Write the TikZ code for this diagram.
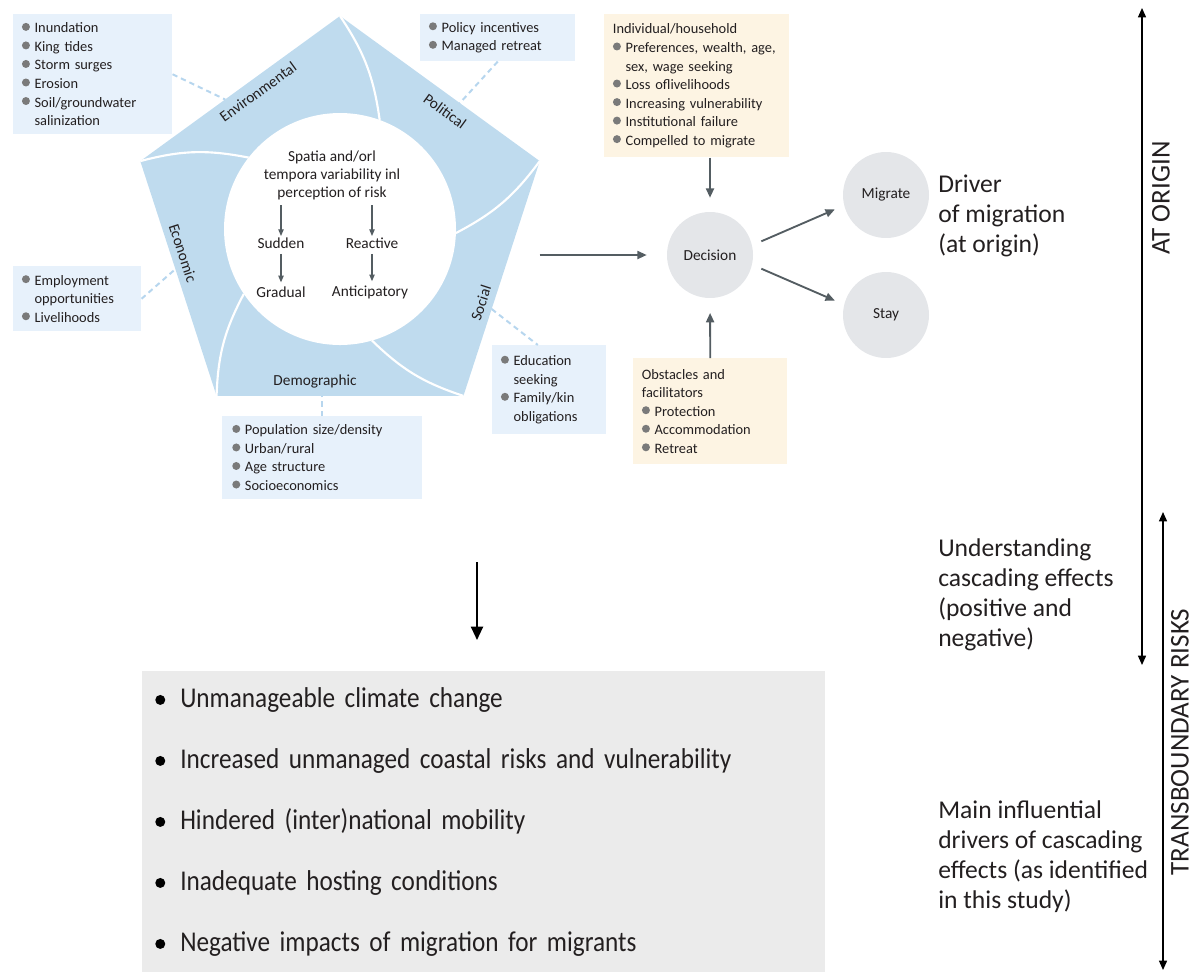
\documentclass[tikz,border=0pt]{standalone}
\usepackage{fontspec}
\setmainfont{Carlito}
\newfontfamily\condfont[FakeStretch=0.88]{Carlito}
\usetikzlibrary{arrows.meta,calc}
\definecolor{pentblue}{HTML}{BFDBEE}
\definecolor{boxblue}{HTML}{E7F1FB}
\definecolor{boxbeige}{HTML}{FDF4E3}
\definecolor{circgrey}{HTML}{E4E6E9}
\definecolor{listgrey}{HTML}{EBEBEB}
\definecolor{arrgrey}{HTML}{545D62}
\definecolor{dashblue}{HTML}{B7D6EE}
\definecolor{bulgrey}{HTML}{7A7A7A}
\definecolor{txt}{HTML}{231F20}
\newcommand{\listfont}{\fontsize{10.8}{13.9}\selectfont}
\newcommand{\pentfont}{\fontsize{11.5}{13.5}\selectfont}
\newcommand{\sidefont}{\fontsize{19.2}{22.5}\selectfont}
\newcommand{\bigfont}{\condfont\fontsize{21.5}{45.75}\selectfont}
\newcommand{\vertfont}{\fontsize{20.3}{24}\selectfont}
\newcommand{\bul}{\makebox[9.5pt][l]{\tikz[baseline=-4.5pt]\fill[bulgrey] (3pt,0pt) circle (3pt);}}
\newcommand{\ind}{\hspace*{9.5pt}}
\newcommand{\bigbul}{\makebox[18.75pt][l]{\tikz[baseline=-5.5pt]\fill[black] (3.75pt,0pt) circle (3.75pt);}}
\begin{document}
\begin{tikzpicture}[x=0.75pt, y=-0.75pt,
    lbox/.style={fill=boxblue, anchor=north west, align=left, inner xsep=6.5pt, inner ysep=0pt, font=\listfont, text=txt},
    bbox/.style={lbox, fill=boxbeige},
    circ/.style={circle, fill=circgrey, minimum size=64.5pt, inner sep=0pt, font=\pentfont, text=txt},
    arr/.style={draw=arrgrey, line width=1.4pt, -{Triangle[length=7pt,width=6pt]}},
    sarr/.style={draw=arrgrey, line width=0.9pt, -{Triangle[length=5pt,width=4pt]}},
    bigarr/.style={draw=black, line width=1.5pt, -{Triangle[length=10pt,width=9pt]}},
    vtarr/.style={draw=black, line width=1pt, {Triangle[length=7pt,width=6pt]}-{Triangle[length=7pt,width=6pt]}},
    dashlink/.style={draw=dashblue, line width=1.5pt, dash pattern=on 4pt off 3pt},
    sep/.style={draw=white, line width=1.6pt},
    plabel/.style={font=\pentfont, text=txt, inner sep=1pt},
    side/.style={font=\sidefont, text=txt, align=left, anchor=west, inner sep=0pt},
    vlabel/.style={font=\vertfont, text=txt, rotate=90, inner sep=0pt}]
    \useasboundingbox (0,0) rectangle (1194,972);

    \coordinate (pc) at (340,226);
    \coordinate (cc) at (340,229);
    \foreach \a [count=\i] in {-90,-18,54,126,198}
      \coordinate (v\i) at ($(pc)+(\a:210)$);
    \fill[pentblue] (v1) -- (v2) -- (v3) -- (v4) -- (v5) -- cycle;
    \fill[white] (cc) circle[radius=87pt];
    \foreach \a in {-90,-18,54,126,198}
      \draw[sep] ($(pc)+(\a:210)$) to[bend left=13] ($(cc)+(\a+20:116)$);

    \node[plabel, rotate=36] (envlab) at (258,92) {Environmental};
    \node[plabel, rotate=-36] (pollab) at (445,111) {Political};
    \node[plabel, rotate=72] (soclab) at (481,303) {Social};
    \node[plabel] (demlab) at (315,381) {Demographic};
    \node[plabel, rotate=-72] (ecolab) at (183,253) {Economic};

    \node[plabel, align=center] (risk) at (332,175) {Spatia and/orl\\tempora variability inl\\perception of risk};
    \node[plabel] (sudden) at (281,243) {Sudden};
    \node[plabel] (reactive) at (372,243) {Reactive};
    \node[plabel] (gradual) at (281,292) {Gradual};
    \node[plabel] (anticip) at (370,292) {Anticipatory};
    \draw[sarr, shorten <=3pt] (sudden.north |- risk.south) -- (sudden.north);
    \draw[sarr, shorten <=3pt] (reactive.north |- risk.south) -- (reactive.north);
    \draw[sarr, shorten <=3pt, shorten >=2pt] (sudden.south) -- (sudden.south |- gradual.north);
    \draw[sarr, shorten <=3pt, shorten >=2pt] (reactive.south) -- (reactive.south |- anticip.north);

    \node[lbox, text width=106.25pt, minimum height=90pt] (envbox) at (13,14)
      {\bul Inundation\\\bul King tides\\\bul Storm surges\\\bul Erosion\\\bul Soil/groundwater\\\ind salinization};
    \node[lbox, text width=103.25pt, minimum height=35.25pt] (polbox) at (420,14)
      {\bul Policy incentives\\\bul Managed retreat};
    \node[lbox, text width=83pt, minimum height=48.75pt] (ecobox) at (13,266)
      {\bul Employment\\\ind opportunities\\\bul Livelihoods};
    \node[lbox, text width=135pt, minimum height=62.25pt, inner xsep=7.5pt] (dembox) at (222,416)
      {\bul Population size/density\\\bul Urban/rural\\\bul Age structure\\\bul Socioeconomics};
    \node[lbox, text width=72.5pt, minimum height=66.75pt] (socbox) at (492,345)
      {\bul Education\\\ind seeking\\\bul Family/kin\\\ind obligations};
    \node[bbox, text width=125.75pt, minimum height=107.25pt] (indbox) at (604,14)
      {Individual/household\\\bul Preferences, wealth, age,\\\ind sex, wage seeking\\\bul Loss oflivelihoods\\\bul Increasing vulnerability\\\bul Institutional failure\\\bul Compelled to migrate};
    \node[bbox, text width=102.5pt, minimum height=79.5pt] (obsbox) at (633,358)
      {Obstacles and\\facilitators\\\bul Protection\\\bul Accommodation\\\bul Retreat};

    \draw[dashlink] (envbox.east) -- ($(v5)!0.425!(v1)$);
    \draw[dashlink] (polbox.south) -- ($(v1)!0.6!(v2)$);
    \draw[dashlink] (ecobox.east) -- ($(v5)!0.46!(v4)$);
    \draw[dashlink] (dembox.north) -- (dembox.north |- v4);
    \draw[dashlink] ($(v2)!0.63!(v3)$) -- ($(socbox.north west)!0.4!(socbox.north east)$);

    \node[circ] (dec) at (710,255) {Decision};
    \node[circ] (mig) at (886,195) {Migrate};
    \node[circ] (stay) at (886,315) {Stay};
    \draw[arr, shorten >=15pt] (v2 |- dec.west) -- (dec.west);
    \draw[arr, shorten >=10.5pt] (indbox.south -| dec) -- (dec.north);
    \draw[arr, shorten >=11pt] (obsbox.north) -- (dec.south);
    \draw[arr, shorten <=7.5pt, shorten >=7.5pt] (dec.13) -- (mig.194);
    \draw[arr, shorten <=7.5pt, shorten >=7.5pt] (dec.-13) -- (stay.166);

    \node[side] (drvtxt) at (938,216) {Driver\\of migration\\(at origin)};
    \node[side] (casctxt) at (938,595) {Understanding\\cascading effects\\(positive and\\negative)};
    \node[side] (maintxt) at (938,857) {Main influential\\drivers of cascading\\effects (as identified\\in this study)};

    \coordinate (ao1) at (1142,8);
    \coordinate (ao2) at (1142,665);
    \coordinate (tb1) at (1163,512);
    \coordinate (tb2) at (1163,970);
    \draw[vtarr] (ao1) -- (ao2);
    \draw[vtarr] (tb1) -- (tb2);
    \node[vlabel] (aolab) at (1161,198) {AT ORIGIN};
    \node[vlabel] (tblab) at (1180,742) {TRANSBOUNDARY RISKS};

    \coordinate (dn1) at (477,562);
    \coordinate (dn2) at (477,640);
    \draw[bigarr] (dn1) -- (dn2);

    \node[fill=listgrey, anchor=north west, minimum width=512.25pt, minimum height=225.75pt, text width=492.75pt, inner xsep=9.75pt, align=left, font=\bigfont, text=txt] (riskbox) at (142,671)
      {\bigbul Unmanageable climate change\\\bigbul Increased unmanaged coastal risks and vulnerability\\\bigbul Hindered (inter)national mobility\\\bigbul Inadequate hosting conditions\\\bigbul Negative impacts of migration for migrants};
  \end{tikzpicture}
\end{document}
